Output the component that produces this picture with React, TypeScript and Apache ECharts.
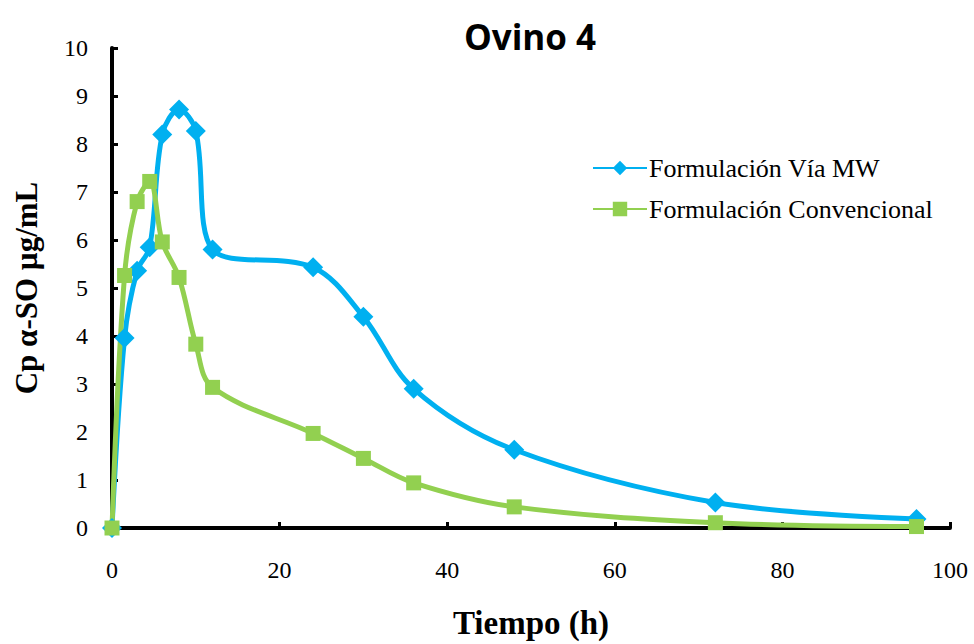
import React, { useEffect, useRef } from "react";
import * as echarts from "echarts";

const tiempos = [0, 1.5, 3, 4.5, 6, 8, 10, 12, 24, 30, 36, 48, 72, 96];
const viaMW = [0, 3.96, 5.36, 5.85, 8.2, 8.72, 8.27, 5.8, 5.43, 4.4, 2.9, 1.63, 0.53, 0.19];
const convencional = [0, 5.26, 6.8, 7.22, 5.96, 5.22, 3.83, 2.93, 1.97, 1.45, 0.94, 0.44, 0.11, 0.03];
const seriesNames = ["Formulación Vía MW", "Formulación Convencional"];
const titleText = "Ovino 4";
const xName = "Tiempo (h)";
const yName = "Cp α-SO µg/mL";

const serif = "'Liberation Serif', 'DejaVu Serif', serif";

export default function App() {
  const ref = useRef<HTMLDivElement>(null);
  useEffect(() => {
    if (!ref.current) return;
    const chart = echarts.init(ref.current, undefined, { renderer: "svg" });
    const pair = (ys: number[]) => tiempos.map((t, i) => [t, ys[i]]);
    chart.setOption({
      animation: false,
      backgroundColor: "#ffffff",
      title: {
        text: titleText,
        left: 525,
        top: 14,
        textAlign: "center",
        textStyle: {
          fontFamily: "'Open Sans', 'Liberation Sans', sans-serif",
          fontWeight: "bold",
          fontSize: 35,
          color: "#000",
        },
      },
      legend: {
        orient: "vertical",
        left: 587,
        top: 150,
        itemWidth: 54,
        itemHeight: 18,
        itemGap: 15,
        textStyle: { fontFamily: serif, fontSize: 26, color: "#000", padding: [0, 0, 0, -3] },
        data: seriesNames,
      },
      grid: { left: 112, right: 24, top: 48, bottom: 108, containLabel: false },
      xAxis: {
        type: "value",
        min: 0,
        max: 100,
        interval: 20,
        name: xName,
        nameLocation: "middle",
        nameGap: 78,
        nameTextStyle: { fontFamily: serif, fontWeight: "bold", fontSize: 33, color: "#000" },
        axisLine: { lineStyle: { color: "#000", width: 4 } },
        axisTick: { inside: true, length: 6, lineStyle: { color: "#000", width: 3 } },
        axisLabel: { fontFamily: serif, fontSize: 24, color: "#000", margin: 30 },
        splitLine: { show: false },
      },
      yAxis: {
        type: "value",
        min: 0,
        max: 10,
        interval: 1,
        name: yName,
        nameLocation: "middle",
        nameGap: 70,
        nameTextStyle: { fontFamily: serif, fontWeight: "bold", fontSize: 31, color: "#000" },
        axisLine: { lineStyle: { color: "#000", width: 4 } },
        axisTick: { inside: true, length: 6, lineStyle: { color: "#000", width: 3 } },
        axisLabel: { fontFamily: serif, fontSize: 24, color: "#000", margin: 24 },
        splitLine: { show: false },
      },
      series: [
        {
          name: seriesNames[0],
          type: "line",
          data: pair(viaMW),
          smooth: 0.35,
          symbol: "diamond",
          symbolSize: 20,
          color: "#00B0F0",
          lineStyle: { width: 5, color: "#00B0F0" },
          itemStyle: { color: "#00B0F0" },
        },
        {
          name: seriesNames[1],
          type: "line",
          data: pair(convencional),
          smooth: 0.35,
          symbol: "rect",
          symbolSize: 15,
          color: "#92D050",
          lineStyle: { width: 5, color: "#92D050" },
          itemStyle: { color: "#92D050" },
        },
      ],
    });
    return () => chart.dispose();
  }, []);
  return (
    <div
      ref={ref}
      style={{ position: "absolute", left: 0, top: 0, width: 974, height: 644 }}
    />
  );
}
